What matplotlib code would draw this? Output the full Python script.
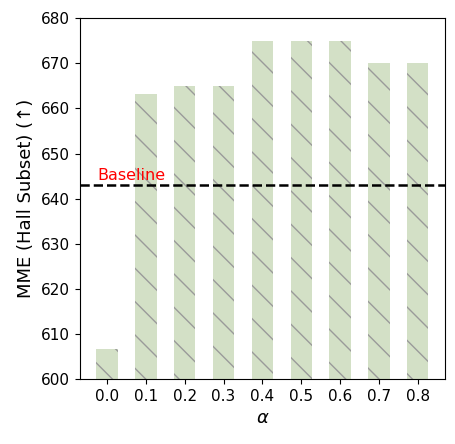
import matplotlib
matplotlib.use("Agg")
import matplotlib.pyplot as plt

# values
alphas = ["0.0", "0.1", "0.2", "0.3", "0.4", "0.5", "0.6", "0.7", "0.8"]
mme = [606.7, 663.3, 665, 665, 675, 675, 675, 670, 670]
baseline = 643

plt.rcParams['hatch.linewidth'] = 1.0
fig = plt.figure(figsize=(4.56, 4.44), dpi=100)
ax = fig.add_axes([0.175, 0.146, 0.801, 0.813])

x = range(len(alphas))
ax.bar(x, mme, width=0.55, color='#d3e0c6', edgecolor='#9a9a9a', linewidth=0, hatch='\\')
ax.axhline(baseline, color='black', linestyle='--', linewidth=1.8)
ax.text(-0.25, baseline + 1.2, "Baseline", color='red', fontsize=11.5)

ax.set_xticks(list(x))
ax.set_xticklabels(alphas, fontsize=11)
ax.set_ylim(600, 680)
ax.tick_params(axis='y', labelsize=11)
ax.set_xlabel(r"$\alpha$", fontsize=13)
ax.set_ylabel("MME (Hall Subset) (↑)", fontsize=13)

fig.savefig("out.png", dpi=100)
